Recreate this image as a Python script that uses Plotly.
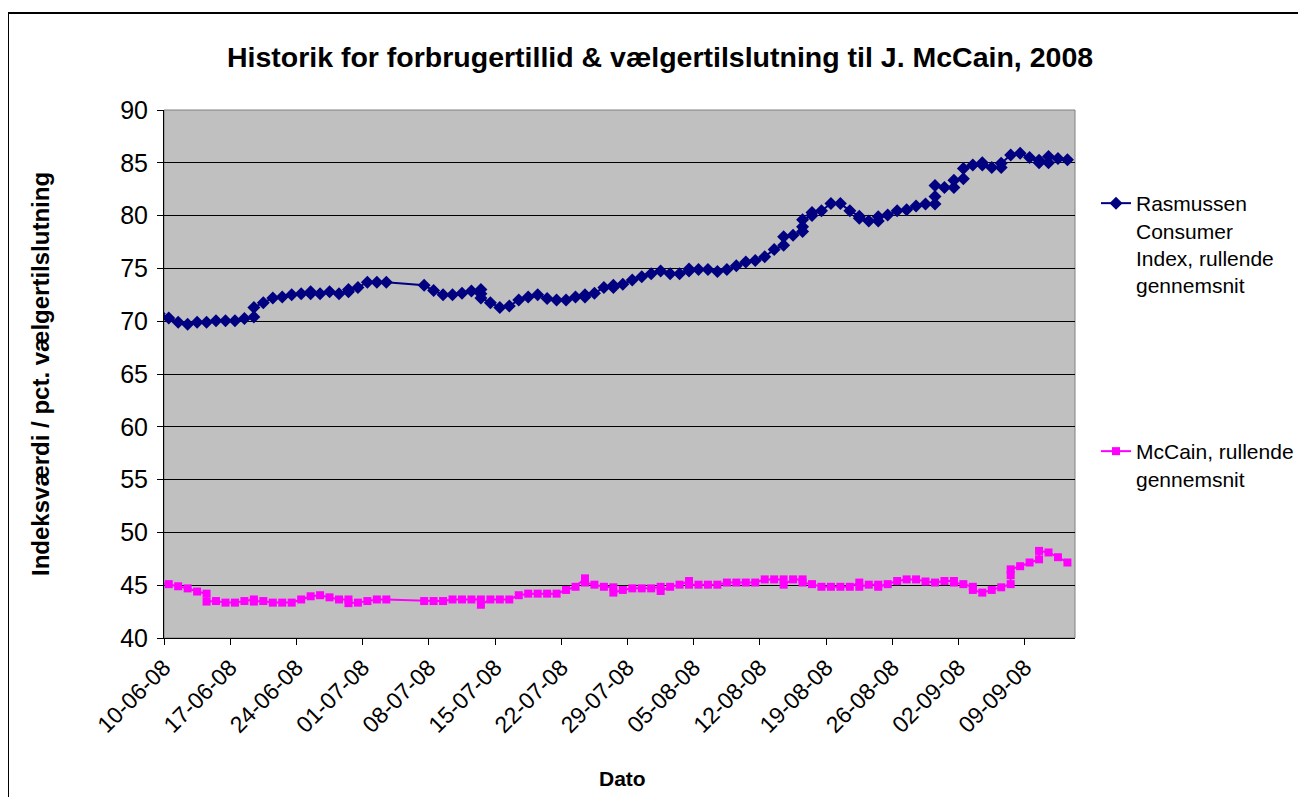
import pandas as pd
import plotly.graph_objects as go

# Rasmussen Consumer Index, rolling average (dd-mm, 2008)
ras_dates = ["09-06","10-06","11-06","12-06","13-06","14-06","15-06","16-06","17-06","18-06",
             "19-06","19-06","20-06","21-06","22-06","23-06","24-06","25-06","25-06","26-06",
             "27-06","28-06","29-06","29-06","30-06","01-07","02-07","03-07","07-07","08-07",
             "09-07","10-07","11-07","12-07","13-07","13-07","13-07","14-07","15-07","16-07",
             "17-07","18-07","19-07","20-07","21-07","22-07","23-07","24-07","24-07","25-07",
             "26-07","27-07","27-07","28-07","29-07","30-07","31-07","01-08","02-08","03-08",
             "04-08","04-08","05-08","06-08","07-08","08-08","09-08","10-08","11-08","12-08",
             "13-08","14-08","14-08","15-08","16-08","16-08","16-08","17-08","17-08","18-08",
             "19-08","20-08","21-08","22-08","22-08","23-08","24-08","24-08","25-08","26-08",
             "27-08","28-08","29-08","30-08","30-08","30-08","31-08","01-09","01-09","02-09",
             "02-09","03-09","04-09","04-09","05-09","06-09","06-09","07-09","08-09","09-09",
             "10-09","10-09","11-09","11-09","12-09","13-09"]
ras_values = [70.7,70.3,69.9,69.7,69.9,69.9,70.05,70.05,70.05,70.25,
              70.4,71.3,71.75,72.2,72.3,72.5,72.6,72.6,72.8,72.6,
              72.8,72.6,72.8,73.0,73.2,73.7,73.7,73.7,73.4,72.9,
              72.5,72.5,72.65,72.85,73.0,72.6,72.2,71.75,71.3,71.45,
              72.0,72.3,72.5,72.15,72.0,72.0,72.3,72.3,72.5,72.65,
              73.2,73.2,73.4,73.5,73.9,74.2,74.5,74.75,74.5,74.5,
              74.75,74.95,74.9,74.9,74.7,74.9,75.25,75.6,75.75,76.1,
              76.8,77.2,78.0,78.15,78.5,78.95,79.6,80.0,80.3,80.45,
              81.15,81.15,80.45,79.95,79.75,79.5,79.5,79.9,80.05,80.45,
              80.55,80.9,81.1,81.1,81.8,82.85,82.65,82.65,83.35,83.5,
              84.45,84.8,84.8,85.0,84.55,84.55,84.95,85.75,85.9,85.5,
              85.25,85.0,85.0,85.6,85.4,85.3]

# McCain voter support, rolling average
mc_dates = ["09-06","10-06","11-06","12-06","13-06","14-06","14-06","15-06","16-06","17-06",
            "18-06","19-06","19-06","20-06","21-06","22-06","23-06","24-06","25-06","26-06",
            "27-06","28-06","29-06","29-06","30-06","01-07","02-07","03-07","07-07","08-07",
            "09-07","10-07","11-07","12-07","13-07","13-07","14-07","15-07","16-07","17-07",
            "18-07","19-07","20-07","21-07","22-07","23-07","24-07","24-07","25-07","26-07",
            "27-07","27-07","28-07","29-07","30-07","31-07","01-08","01-08","02-08","03-08",
            "04-08","04-08","05-08","06-08","07-08","08-08","09-08","10-08","11-08","12-08",
            "13-08","14-08","14-08","15-08","16-08","16-08","17-08","18-08","19-08","20-08",
            "21-08","22-08","22-08","23-08","24-08","24-08","25-08","26-08","27-08","28-08",
            "29-08","30-08","31-08","01-09","01-09","02-09","03-09","03-09","04-09","05-09",
            "06-09","07-09","07-09","07-09","08-09","09-09","10-09","10-09","11-09","12-09",
            "13-09"]
mc_values = [45.25,45.1,44.9,44.7,44.4,44.2,43.45,43.5,43.35,43.35,
             43.5,43.65,43.45,43.5,43.35,43.35,43.35,43.65,43.95,44.05,
             43.85,43.65,43.65,43.3,43.35,43.5,43.65,43.65,43.5,43.5,
             43.5,43.65,43.65,43.65,43.65,43.15,43.65,43.65,43.65,44.05,
             44.2,44.2,44.2,44.2,44.55,44.85,45.65,45.25,45.05,44.85,
             44.8,44.3,44.55,44.7,44.7,44.7,44.85,44.45,44.85,45.05,
             45.4,45.05,45.05,45.05,45.05,45.25,45.25,45.25,45.25,45.55,
             45.55,45.55,45.05,45.55,45.55,45.25,45.1,44.85,44.85,44.85,
             44.85,45.25,44.85,45.05,45.05,44.85,45.1,45.4,45.55,45.55,
             45.35,45.25,45.4,45.4,45.25,45.1,44.85,44.55,44.3,44.55,
             44.8,45.1,45.95,46.5,46.8,47.15,47.45,48.25,48.1,47.65,
             47.15]

y_ticks = [40, 45, 50, 55, 60, 65, 70, 75, 80, 85, 90]

FONT = "Liberation Sans, Arial, sans-serif"

def to_x(ds):
    # Excel date axis places each day's point midway between day ticks
    return pd.to_datetime(["2008-" + d[3:5] + "-" + d[0:2] for d in ds]) + pd.Timedelta(hours=12)

fig = go.Figure()
fig.add_trace(go.Scatter(
    x=to_x(ras_dates), y=ras_values, mode="lines+markers",
    name="Rasmussen<br>Consumer<br>Index, rullende<br>gennemsnit",
    line=dict(color="#000080", width=2),
    marker=dict(symbol="diamond", size=10, color="#000080"),
    legend="legend", showlegend=True))
fig.add_trace(go.Scatter(
    x=to_x(mc_dates), y=mc_values, mode="lines+markers",
    name="McCain, rullende<br>gennemsnit",
    line=dict(color="#FF00FF", width=2),
    marker=dict(symbol="square", size=8, color="#FF00FF"),
    legend="legend2", showlegend=True))

OFF = 8                      # page body margin
SW, SH = 1306, 805           # screen size
W, H = SW - 2 * OFF, SH - 2 * OFF
# plot area in screen pixels
L, R, T, B = 164, 1075, 110, 638
pw, ph = R - L, B - T
def px(x): return (x - L) / pw
def py(y): return (B - y) / ph

x0 = pd.Timestamp("2008-06-10")
x1 = x0 + pd.Timedelta(days=96.3)

fig.update_layout(
    width=W, height=H, showlegend=True,
    margin=dict(l=L - OFF, r=W - (R - OFF), t=T - OFF, b=H - (B - OFF), autoexpand=False),
    paper_bgcolor="white", plot_bgcolor="#C0C0C0",
    font=dict(family=FONT, color="black"),
    title=dict(text="<b>Historik for forbrugertillid & vælgertilslutning til J. McCain, 2008</b>",
               x=(660 - OFF) / W, y=1 - (57 - OFF) / H, xanchor="center", yanchor="middle",
               font=dict(size=28.5, family=FONT, color="black")),
    xaxis=dict(range=[x0, x1], type="date", tick0=x0, dtick=7 * 86400000,
               tickformat="%d-%m-%y", tickangle=-45, showgrid=False,
               showline=True, linecolor="black", linewidth=1,
               ticks="outside", ticklen=6, tickcolor="black",
               tickfont=dict(size=23, family=FONT), zeroline=False),
    yaxis=dict(range=[40, 90], tickvals=y_ticks, showgrid=True, gridcolor="black", gridwidth=1,
               showline=True, linecolor="black", linewidth=1,
               ticks="outside", ticklen=6, tickcolor="black", ticklabelstandoff=4,
               tickfont=dict(size=25, family=FONT), zeroline=False),
    legend=dict(x=px(1096), y=py(183), xanchor="left", yanchor="top", valign="top",
                font=dict(size=21, family=FONT), bgcolor="rgba(0,0,0,0)"),
    legend2=dict(x=px(1096), y=py(431), xanchor="left", yanchor="top", valign="top",
                 font=dict(size=21, family=FONT), bgcolor="rgba(0,0,0,0)"),
    annotations=[
        dict(text="<b>Indeksværdi / pct. vælgertilslutning</b>", textangle=-90,
             x=px(40), y=py(374), xref="paper", yref="paper", showarrow=False,
             xanchor="center", yanchor="middle", font=dict(size=24, family=FONT)),
        dict(text="<b>Dato</b>", x=px(622), y=py(778), xref="paper", yref="paper",
             showarrow=False, xanchor="center", yanchor="middle",
             font=dict(size=21, family=FONT)),
    ],
    shapes=[
        dict(type="rect", xref="paper", yref="paper", x0=0, x1=1, y0=0, y1=1,
             line=dict(color="#808080", width=1), layer="below"),
        dict(type="line", xref="paper", yref="paper",
             x0=px(8), x1=px(1400), y0=py(13), y1=py(13),
             line=dict(color="black", width=2)),
        dict(type="line", xref="paper", yref="paper",
             x0=px(8), x1=px(8), y0=py(13), y1=py(900),
             line=dict(color="black", width=2)),
    ],
)

fig.write_html("out.html")
